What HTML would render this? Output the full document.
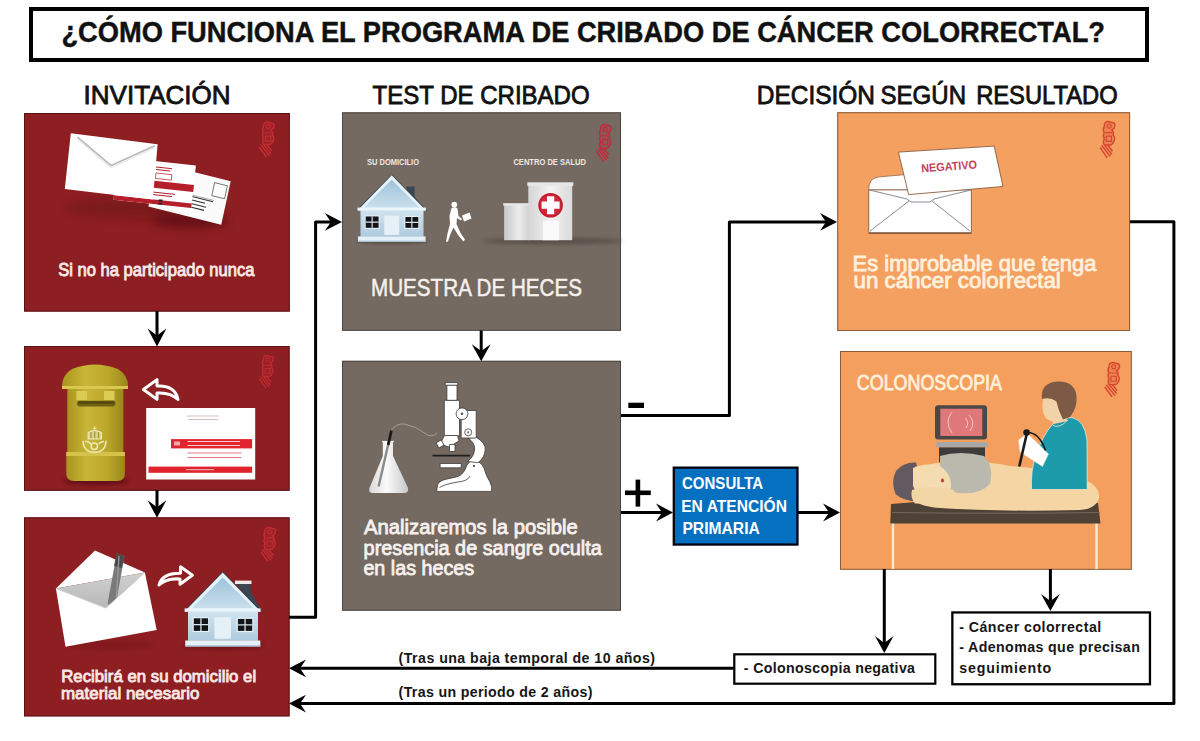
<!DOCTYPE html>
<html><head><meta charset="utf-8">
<style>
html,body{margin:0;padding:0;background:#fff;width:1200px;height:741px;overflow:hidden}
svg{display:block}
text{font-family:"Liberation Sans",sans-serif}
</style></head>
<body>
<svg width="1200" height="741" viewBox="0 0 1200 741">
<defs>
<filter id="blur2" x="-20%" y="-50%" width="140%" height="200%"><feGaussianBlur stdDeviation="2"/></filter>
<filter id="blur4" x="-30%" y="-80%" width="160%" height="260%"><feGaussianBlur stdDeviation="4"/></filter>
<linearGradient id="gWall" x1="0" y1="0" x2="0" y2="1"><stop offset="0" stop-color="#CFE3EF"/><stop offset="1" stop-color="#AFCBDF"/></linearGradient>
<linearGradient id="gGable" x1="0" y1="0" x2="0" y2="1"><stop offset="0" stop-color="#9FC3DA"/><stop offset="1" stop-color="#C9DFEC"/></linearGradient>
<linearGradient id="gBld" x1="0" y1="0" x2="1" y2="0"><stop offset="0" stop-color="#D4D4D4"/><stop offset="0.5" stop-color="#F2F2F2"/><stop offset="1" stop-color="#DADADA"/></linearGradient>
<linearGradient id="gBld2" x1="0" y1="0" x2="1" y2="0"><stop offset="0" stop-color="#C8C8C8"/><stop offset="0.6" stop-color="#EDEDED"/><stop offset="1" stop-color="#D0D0D0"/></linearGradient>
<linearGradient id="gGold" x1="0" y1="0" x2="1" y2="0"><stop offset="0" stop-color="#A8941E"/><stop offset="0.35" stop-color="#C9B537"/><stop offset="0.7" stop-color="#BCA72C"/><stop offset="1" stop-color="#9A871A"/></linearGradient>
<linearGradient id="gFlask" x1="0" y1="0" x2="1" y2="0"><stop offset="0" stop-color="#D8D8D8"/><stop offset="0.45" stop-color="#FAFAFA"/><stop offset="1" stop-color="#C8C8C8"/></linearGradient>
<linearGradient id="gEnvIn" x1="0" y1="0" x2="0" y2="1"><stop offset="0" stop-color="#D0D0D0"/><stop offset="1" stop-color="#B8B8B8"/></linearGradient>
<g id="house">
 <ellipse cx="223" cy="646" rx="40" ry="3" fill="#000" opacity="0.25" filter="url(#blur2)"/>
 <polygon points="222.7,571.6 183.3,611.8 262,611.8" fill="#33404A"/>
 <polygon points="222.7,572.6 184.6,611.6 260.8,611.6" fill="#E4F2FA"/>
 <polygon points="222.7,577.6 191.5,608.6 253.9,608.6" fill="url(#gGable)"/>
 <rect x="188" y="611.4" width="70" height="29.4" fill="url(#gWall)"/>
 <rect x="184.6" y="608.4" width="76" height="3.4" fill="#EAF6FC"/>
 <rect x="192.6" y="617.2" width="16.6" height="14.8" fill="#E8F1F7"/>
 <rect x="193.8" y="618.3" width="14.3" height="12.6" fill="#121418"/>
 <path d="M200.95 618.3V630.9M193.8 624.6H208.1" stroke="#D8E4EC" stroke-width="1.3"/>
 <rect x="236.7" y="617.6" width="16.6" height="14.5" fill="#E8F1F7"/>
 <rect x="237.9" y="618.9" width="14.3" height="12" fill="#121418"/>
 <path d="M245.05 618.9V630.9M237.9 624.9H252.2" stroke="#D8E4EC" stroke-width="1.3"/>
 <rect x="214.4" y="617.2" width="16.6" height="21.6" fill="#E6F0F7"/>
 <rect x="185.2" y="640.5" width="75.1" height="5.9" fill="#E4F1F9"/>
 <rect x="185.2" y="645.2" width="75.1" height="1.4" fill="#A7BFD0"/>
</g>
<g id="logo">
 <path d="M6 1.5Q9 -0.5 12 1.5Q15.8 1 15.6 4.6Q15.2 7.6 12.6 8.6Q14.8 10.6 13.8 13.2Q16.2 15.6 14.7 19Q13.6 21.6 11.6 22.6L5 22.6Q3.4 19.2 5 16.6Q3 13.6 5 11Q3 8 5 5Q4.6 3 6 1.5Z" fill="currentColor" fill-opacity="0.3" stroke="currentColor" stroke-width="1.4"/>
 <circle cx="9.8" cy="4.8" r="2" fill="none" stroke="currentColor" stroke-width="1.1"/>
 <path d="M6.2 11H13M7 14.3H12.2V19.2H7Z" fill="none" stroke="currentColor" stroke-width="1.1"/>
 <path d="M0.8 25L8 34.8M2.3 22.8L11 33.6M5.3 22.8L12.6 31.6M8.5 22.8L13.2 28.6" stroke="currentColor" stroke-width="1.5"/>
</g>

</defs>
<rect x="0" y="0" width="1200" height="741" fill="#fff"/>
<!-- TITLE BOX -->
<rect x="31" y="9" width="1116" height="51" fill="none" stroke="#000" stroke-width="4"/>
<!-- BOXES -->
<rect x="24" y="113" width="265.8" height="198.6" fill="#8D1E21"/>
<rect x="24.5" y="113.5" width="264.8" height="197.6" fill="none" stroke="#4A1012" stroke-width="1" opacity="0.8"/>
<rect x="24" y="346" width="265.6" height="144.8" fill="#8D1E21"/>
<rect x="24.5" y="346.5" width="264.6" height="143.8" fill="none" stroke="#4A1012" stroke-width="1" opacity="0.8"/>
<rect x="24" y="517.3" width="265.6" height="199.1" fill="#8D1E21"/>
<rect x="24.5" y="517.8" width="264.6" height="198.1" fill="none" stroke="#4A1012" stroke-width="1" opacity="0.8"/>
<rect x="342" y="112.3" width="279.0" height="218.5" fill="#756A61"/>
<rect x="342.5" y="112.8" width="278.0" height="217.5" fill="none" stroke="#423B36" stroke-width="1" opacity="0.8"/>
<rect x="342" y="360.8" width="279.0" height="249.9" fill="#756A61"/>
<rect x="342.5" y="361.3" width="278.0" height="248.9" fill="none" stroke="#423B36" stroke-width="1" opacity="0.8"/>
<rect x="837.2" y="112.2" width="292.9" height="218.8" fill="#F4A060"/>
<rect x="837.7" y="112.7" width="291.9" height="217.8" fill="none" stroke="#6E4A30" stroke-width="1" opacity="0.8"/>
<rect x="840" y="351" width="291.8" height="218.8" fill="#F59F5E"/>
<rect x="840.5" y="351.5" width="290.8" height="217.8" fill="none" stroke="#6E4A30" stroke-width="1" opacity="0.8"/>
<rect x="673.8" y="467.65" width="123.65" height="76.9" fill="#0570C0" stroke="#020410" stroke-width="2.3"/>
<rect x="734.3" y="654.3" width="201" height="29.4" fill="#fff" stroke="#000" stroke-width="2.2"/>
<rect x="952.35" y="612.45" width="197.6" height="71.8" fill="#fff" stroke="#000" stroke-width="2.3"/>
<!-- ===== RED BOX 1 ===== -->
<g>
 <ellipse cx="140" cy="208" rx="75" ry="10" fill="#4a0a0c" opacity="0.25" filter="url(#blur4)"/>
 <ellipse cx="190" cy="221" rx="38" ry="7" fill="#3a0608" opacity="0.45" filter="url(#blur4)"/>
 <!-- card 3 (postcard) -->
 <polygon points="157.9,163 230.7,181.2 221.2,224.7 148.4,206.5" fill="#FBFBFB"/>
 <polygon points="214.6,182.6 227.4,185.8 224.6,198.8 211.8,195.6" fill="none" stroke="#555" stroke-width="0.8"/>
 <path d="M190 196L213 201.8M190 199.5L205 203.3M189 203L206 207.3M188.5 206.5L204 210.4" stroke="#333" stroke-width="1.1"/>
 <path d="M172 190 L214 200.5" stroke="#777" stroke-width="0.6"/>
 <!-- card 2 -->
 <polygon points="118,157 195.9,165.4 191.2,208.1 113.5,199.8" fill="#FFFFFF"/>
 <polygon points="152.3,180.5 194,185 193.2,192 151.5,187.5" fill="#B51E2B"/>
 <polygon points="114,195.2 191.7,203.5 191.2,208.1 113.5,199.8" fill="#B51E2B"/>
 <path d="M156 167L172 168.7M156 169.5L170 171M152.5 192L175 194.4M152.5 194.5L172 196.6" stroke="#B51E2B" stroke-width="1"/>
 <rect x="156" y="173" width="16" height="5.5" fill="none" stroke="#B51E2B" stroke-width="0.7" transform="rotate(6 156 173)"/>
 <path d="M158.5 199.5h4v2h-4zM158 203h4v1.6h-4z" fill="#222"/>
 <!-- envelope -->
 <polygon points="70.8,133.2 157.6,144.3 152.8,199.4 64.8,189.1" fill="#FFFFFF"/>
 <polyline points="77.5,137.2 111.2,165.6 154.7,145.8" fill="none" stroke="#B8B8B8" stroke-width="1.6" stroke-linejoin="round"/>
 <polyline points="78,139.5 111.2,167.8 154,148" fill="none" stroke="#E6E6E6" stroke-width="1.2" stroke-linejoin="round"/>
 <use href="#logo" transform="translate(258.5,121.5) scale(1,1.02)" color="#D03038" opacity="0.8"/>
</g>
<!-- ===== RED BOX 2 ===== -->
<g>
 <ellipse cx="96" cy="481" rx="32" ry="4" fill="#3a0608" opacity="0.5" filter="url(#blur2)"/>
 <!-- mailbox -->
 <path d="M66.3 452 H124.9 V474 Q124.9 481 117 481 H74 Q66.3 481 66.3 474 Z" fill="url(#gGold)"/>
 <rect x="67.3" y="384" width="56.1" height="70" fill="url(#gGold)"/>
 <path d="M62 386 Q62 375 72 369 Q95 360 118 369 Q128 375 128 386 Z" fill="url(#gGold)"/>
 <path d="M62 386 H128 V389 H62Z" fill="#D9C750"/>
 <path d="M66.3 452 H124.9 V456 H66.3Z" fill="#D4C24A"/>
 <rect x="76.5" y="391" width="10.5" height="9" fill="#DCCB55"/>
 <rect x="104" y="391" width="10.5" height="9" fill="#DCCB55"/>
 <rect x="77" y="400.8" width="38.5" height="5.6" rx="2.8" fill="#6E6112"/>
 <rect x="78" y="401.6" width="36.5" height="2" rx="1" fill="#4E440A"/>
 <g fill="none" stroke="#EEE8B8" stroke-width="1.5" stroke-linecap="round">
  <path d="M88.2 438.8V432.6Q94.8 428.8 101.4 432.6V438.8Z" fill="#D8D08A" stroke-width="1.2"/>
  <path d="M91 432.5V438M94.8 431.5V438M98.6 432.5V438" stroke="#9C8E2A" stroke-width="1"/>
  <path d="M94.8 426.8V430.2M93.3 428.3H96.3" stroke-width="1"/>
  <path d="M83 441.2Q83.5 452.2 94.5 452.2Q105.5 452.2 106 441.2"/>
  <circle cx="94.3" cy="446.3" r="3.2"/>
  <path d="M85.5 441.5Q89 441 91.5 444.5M103.5 441.5Q101 442 99 443.5"/>
 </g>

 <!-- reply arrow -->
 <path d="M178 399.5 Q175 385 157 386 L157 379.6 L143.4 389.5 L157 399.4 L157 393 Q170 392 178 399.5Z" fill="none" stroke="#FFFFFF" stroke-width="3" stroke-linejoin="round"/>
 <!-- card -->
 <rect x="146.2" y="408" width="109" height="71.5" fill="#FFFFFF"/>
 <rect x="171" y="439.1" width="81.1" height="9.3" fill="#E0232D"/>
 <rect x="148.5" y="466.6" width="103.6" height="6.2" fill="#E0232D"/>
 <path d="M174 441.5h6v4h-6z" fill="#fff" opacity="0.6"/>
 <path d="M187.5 441.5H240M187.5 445.5H240" stroke="#F6C8C8" stroke-width="1.1"/>
 <path d="M187.5 453H241.5M187.5 457.5H241.5" stroke="#E27A80" stroke-width="1.1"/>
 <path d="M187 416H219M188 419.5H218" stroke="#C9A0A0" stroke-width="0.7"/>
 <path d="M186 469.7H214" stroke="#F6C0C0" stroke-width="1"/>
 <use href="#logo" transform="translate(258.5,355) scale(0.95,0.95)" color="#D03038" opacity="0.7"/>
</g>
<!-- ===== RED BOX 3 ===== -->
<g>
 <ellipse cx="110" cy="645" rx="44" ry="4" fill="#3a0608" opacity="0.15" filter="url(#blur2)"/>
 <polygon points="55.9,588.4 95,550.5 144.9,572.6" fill="#FFFFFF"/>
 <polygon points="55.9,588.4 144.9,572.6 105.8,608.2" fill="url(#gEnvIn)"/>
 <!-- pen -->
 <path d="M116.8 553.5 L124.6 555.9 L115.3 606.5 L107.5 604.1Z" fill="#7A7A7A"/>
 <path d="M116.8 553.5 L124.6 555.9 L121.6 568 L114 565.8Z" fill="#4A4A4A"/>
 <path d="M119 556 L116 604" stroke="#9A9A9A" stroke-width="1.2"/>
 <polygon points="55.9,588.4 105.8,608.2 144.9,572.6 156.7,630 65.5,646.7" fill="#FFFFFF"/>
 <path d="M55.9 588.4 L105.8 608.2 L144.9 572.6" fill="none" stroke="#DADADA" stroke-width="0.8"/>
 <!-- forward arrow -->
 <path d="M159 585 Q162 573 180.5 573.2 L180.5 566.8 L192.4 575.2 L180 584.2 L180 579 Q166 578 159 585Z" fill="none" stroke="#FFFFFF" stroke-width="3" stroke-linejoin="round"/>
 <polygon points="236,583.5 250.5,583.5 250.8,591.5 262,611.6 259,611.6" fill="#3A4650"/>
 <rect x="235" y="580.6" width="16.5" height="3.4" fill="#F0E8E8"/>
 <use href="#house"/>
 <use href="#logo" transform="translate(260,527) scale(1,0.99)" color="#D03038" opacity="0.8"/>
</g>
<!-- ===== GRAY BOX 1 ===== -->
<g>
 <polygon points="406.5,186.5 414.6,186.5 414.6,196.5 424.8,210.2 421.5,210.2 406.5,190" fill="#3A4650"/>
 <use href="#house" transform="translate(191.3,-340) scale(0.9)"/>
 <!-- shadow line under health center -->
 <ellipse cx="553" cy="241" rx="70" ry="3" fill="#3E3630" opacity="0.55" filter="url(#blur2)"/>
 <!-- health center -->
 <rect x="504.1" y="204.2" width="25" height="36" fill="url(#gBld2)"/>
 <rect x="503.2" y="203.2" width="26" height="2.4" fill="#E8E8E8"/>
 <rect x="528.3" y="185" width="43.9" height="55.2" fill="url(#gBld)"/>
 <rect x="527.3" y="182.3" width="46" height="3.6" fill="#E6E6E6"/>
 <circle cx="550.6" cy="205.2" r="12.3" fill="#C21F32"/>
 <circle cx="550.6" cy="205.2" r="10.2" fill="#D0293A"/>
 <path d="M547 196.2h7.2v5.4h5.4v7.2h-5.4v5.4H547v-5.4h-5.4v-7.2h5.4z" fill="#FFFFFF"/>
 <rect x="542.9" y="220.9" width="16.2" height="19.3" fill="#FAFAFA"/>
 <!-- walking person -->
 <g fill="#FFFFFF">
  <circle cx="454.3" cy="204.6" r="2.9"/>
  <path d="M451.5 208 Q455 206.5 457.5 208.5 L458.5 216 L462 219 L461 220.5 L457 218 L456.5 224 L460.5 233 L465 239.5 L463.5 241.5 L458 235 L453.5 227.5 L450.5 234 L448 241.5 L446 242 L447.5 233.5 L450 224 L449.5 216 Z"/>
  <polygon points="462,215.5 469.5,212.5 471.5,218.5 464,221.5"/>
 </g>
 <use href="#logo" transform="translate(595.5,124) scale(1,1.08)" color="#C8283A" opacity="0.95"/>
</g>
<!-- ===== GRAY BOX 2 ===== -->
<g>
 <!-- wire -->
 <path d="M391 431 Q396 423 404 424 Q416 426 426 434 Q432 438 437 433" fill="none" stroke="#A9A29C" stroke-width="0.9"/>
 <!-- flask -->
 <path d="M382.8 442 H393 V456 L408 488 Q409 493 404 493 H373 Q368 493 369.5 488 L382.8 456Z" fill="url(#gFlask)"/>
 <path d="M382 441.5 H394" stroke="#EEE" stroke-width="1.2"/>
 <path d="M391.4 430.5 L378.6 486.5" stroke="#8A8A8A" stroke-width="2.4"/>
 <path d="M391.4 430.5 L388.2 445" stroke="#1A1A1A" stroke-width="2.8"/>
 <!-- microscope -->
 <g fill="#FFFFFF" stroke="#3A3A3A" stroke-width="0.8" stroke-linejoin="round">
  <path d="M436.7 491.4 L437.5 485 Q439 481 445 479.5 L458 476.5 Q464 474 466.5 466 Q469 460.5 474.7 460.8 Q481 461.5 484 468 Q486 476 490 482 Q492.5 487 491.6 491.4Z"/>
  <path d="M468 438.2 L476.4 437.4 Q486 443 485.2 450 Q484.5 458 478 462.7 L467.5 461.5 Q474 457 474.7 449 Q474.5 442 468 438.2Z"/>
  <rect x="461.2" y="410.5" width="15" height="27.5"/>
  <rect x="444.3" y="400.3" width="15.2" height="35.5"/>
  <rect x="446.9" y="385" width="10.1" height="15.3"/>
  <rect x="445.2" y="382.6" width="12.6" height="2.6"/>
  <circle cx="462" cy="413.8" r="5.9"/>
  <circle cx="468.2" cy="432.3" r="3.5"/>
  <path d="M444.5 435.5 L457.5 435.5 L459 441 L449 447 L440 444Z"/>
  <rect x="437" y="441" width="6" height="6" transform="rotate(-30 440 444)"/>
  <rect x="449.5" y="444.5" width="5.5" height="7"/>
  <rect x="440.1" y="463.5" width="21.1" height="4.3"/>
  <path d="M439.5 487.5 Q445 484 458 482 Q468 481 470 476" fill="none"/>
 </g>
 <circle cx="462" cy="413.8" r="1.3" fill="#555"/>
 <circle cx="468.2" cy="432.3" r="1" fill="#555"/>
 <path d="M432.5 455.6 H470" stroke="#1E1E1E" stroke-width="1.6"/>
 <circle cx="474" cy="466" r="1" fill="#333"/>
</g>
<!-- ===== ORANGE BOX 1 ===== -->
<g>
 <path d="M868.8 190 Q868 179 878 177 L935 172 L960 190Z" fill="#FFFFFF" stroke="#9A6A4A" stroke-width="0.8"/>
 <rect x="868.8" y="189.9" width="102.5" height="43.2" fill="#FFFFFF" stroke="#8A5C40" stroke-width="0.9"/>
 <path d="M868.8 233.1 H971.3" stroke="#8A5C40" stroke-width="1.6"/>
 <path d="M869.5 190 L907 199 L911 202 H930 L934 199 L971 190" fill="none" stroke="#8A8A96" stroke-width="1"/>
 <path d="M909 201 L870 231 M932 201 L970 231" stroke="#8A8A96" stroke-width="1"/>
 <polygon points="898.4,152.1 994.2,146.1 1003,186.5 908.6,194.6" fill="#FFFFFF" stroke="#8A5C40" stroke-width="0.9"/>
 <text x="921.4" y="172.4" font-size="11.6" font-weight="bold" fill="#C8405A" transform="rotate(-4.2 921.4 172.4)" textLength="56" lengthAdjust="spacingAndGlyphs">NEGATIVO</text>
 <use href="#logo" transform="translate(1099.3,121) scale(1,1.06)" color="#D8402E" opacity="0.95"/>
</g>
<!-- ===== ORANGE BOX 2 ===== -->
<g>
 <!-- monitor -->
 <rect x="935" y="405.3" width="52" height="34.2" rx="3" fill="#4A4746"/>
 <rect x="940.3" y="408.7" width="42" height="27.3" fill="#E0787A"/>
 <path d="M952 412 Q944 422 952 433 M965 418 Q970 422 966 428 M969 415 Q976 422 970 431" fill="none" stroke="#F5C9C3" stroke-width="1"/>
 <rect x="936.3" y="442" width="51.3" height="5.4" fill="#A7A7A7"/>
 <rect x="939" y="447.4" width="46" height="18" fill="#3E3C3B"/>
 <!-- table -->
 <rect x="891.8" y="522" width="2.4" height="47" fill="#FDE9D2"/>
 <rect x="1095.3" y="522" width="2.4" height="47" fill="#FDE9D2"/>
 <path d="M891 504 Q930 500 965 503 Q1000 506 1040 503 Q1075 501 1098 503 L1100.5 523.5 L890.3 523.5Z" fill="#4E4236"/>
 <path d="M892 512.5 Q1000 514 1100 512.5" stroke="#7A6B5C" stroke-width="0.9" fill="none"/>
 <!-- patient -->
 <path d="M915 470 Q930 462 948 462 Q985 460 1010 466 Q1060 470 1085 480 Q1100 486 1099 498 Q1096 509 1080 510 Q1000 512 940 508 Q915 506 910 496 Q908 480 915 470Z" fill="#F4D5A3"/>
 <path d="M940 456 Q960 450 984 456 Q994 466 990 484 Q980 495 958 493 Q944 490 940 478Z" fill="#B9B9AD"/>
 <path d="M896 471 Q903 462 916 462.5 Q921 478 917 501.5 Q903 501 895.5 494 Q890.5 482 896 471Z" fill="#625A60"/>
 <path d="M913 468 Q925 462 940 466 Q952 474 951 488 Q944 497 930 497 Q916 496 913 486Z" fill="#F5DCB0"/>
 <path d="M912 490 Q930 484 954 490 Q956 500 945 503.5 L915 503.5 Q910 498 912 490Z" fill="#F3D6A6"/>
 <ellipse cx="942.5" cy="480.5" rx="1.6" ry="2" fill="#C84040"/>
 <!-- doctor -->
 <path d="M1031.5 489.5 Q1030.5 470 1036 455 Q1042 437 1052 424.5 Q1060 418 1072 417.5 Q1084.5 420 1087 440 L1087.2 489.5Z" fill="#1E9BAB" stroke="#F6E3C8" stroke-width="0.8"/>
 <path d="M1052 424.5 Q1058 430 1068 420" fill="none" stroke="#F6E3C8" stroke-width="0.8"/>
 <path d="M1051 409 L1066 410 L1067 421 Q1060 423 1053 424Z" fill="#F2D2A8"/>
 <path d="M1043.5 397 Q1040.5 410 1046 418.5 L1053 422 L1062 420 Q1058 411 1056.5 401 Q1050 395 1043.5 397Z" fill="#F2D2A8"/>
 <path d="M1042 399 Q1040 383 1057 381.5 Q1074.5 380.5 1076.5 396 Q1077.5 408 1070 417 L1063 419.5 Q1058.5 411 1056.5 401.5 Q1050 396.5 1042 399Z" fill="#7D5A45"/>
 <path d="M1018.5 440 L1027.5 433.5 L1048.5 454 L1042.5 466.5 L1020 452Z" fill="#FFFFFF" stroke="#F0E0D0" stroke-width="0.5"/>
 <path d="M1027 432.5 Q1039 432 1045.5 450.5" fill="none" stroke="#1A1A1A" stroke-width="1.6"/>
 <path d="M1026.5 435 L1019.5 465.5" stroke="#1A1A1A" stroke-width="2.6" stroke-linecap="round"/>
 <circle cx="1026.6" cy="432.6" r="3.3" fill="#1A1A1A"/>
 <use href="#logo" transform="translate(1104,362) scale(1,1.0)" color="#D8402E" opacity="0.95"/>
</g>

<!-- CONNECTORS -->
<g fill="none" stroke="#000" stroke-width="3" stroke-linejoin="round">
<path d="M157 311V336"/>
<path d="M157 490V508"/>
<path d="M289 617.3H315.6V221.9H332"/>
<path d="M481.2 330.5V352"/>
<path d="M621 415.5H729.4V221.9H827"/>
<path d="M621 512.5H663"/>
<path d="M798 512.5H830"/>
<path d="M1130 221.8H1173.9V703.6H299"/>
<path d="M733.6 668.3H299"/>
<path d="M884.3 569V643"/>
<path d="M1050.4 569V601"/>
</g>
<g fill="#000">
<polygon points="157,346.6 147.6,328.6 157,335.6 166.4,328.6"/>
<polygon points="157,517.8 147.6,500.3 157,507.3 166.4,500.3"/>
<polygon points="481.2,361.2 471.8,344.2 481.2,351 490.6,344.2"/>
<polygon points="884.3,653 875,636 884.3,643 893.6,636"/>
<polygon points="1050.4,611 1041,594 1050.4,601 1059.8,594"/>
<polygon points="342,221.9 324.8,213 331,221.9 324.8,230.8"/>
<polygon points="837,221.9 820,213 826,221.9 820,230.8"/>
<polygon points="673,512.5 656,503.6 662,512.5 656,521.4"/>
<polygon points="840,512.5 823,503.6 829,512.5 823,521.4"/>
<polygon points="289,668.3 306,659.4 300,668.3 306,677.2"/>
<polygon points="289,703.6 306,694.7 300,703.6 306,712.5"/>
</g>
<rect x="628.3" y="402.7" width="15.7" height="5.3" fill="#000"/>
<rect x="625" y="490.5" width="25.8" height="4.6" fill="#000"/>
<rect x="635.6" y="479.6" width="4.6" height="27" fill="#000"/>
<text x="61.40" y="41.8" font-size="29.4" font-weight="bold" fill="#111" textLength="1043.60" lengthAdjust="spacingAndGlyphs" stroke="#111" stroke-width="0.45">¿CÓMO FUNCIONA EL PROGRAMA DE CRIBADO DE CÁNCER COLORRECTAL?</text>
<text x="83.60" y="104.1" font-size="25.1" font-weight="normal" fill="#111" textLength="147.00" lengthAdjust="spacingAndGlyphs" stroke="#111" stroke-width="0.8">INVITACIÓN</text>
<text x="372.60" y="104.2" font-size="25.1" font-weight="normal" fill="#111" textLength="217.00" lengthAdjust="spacingAndGlyphs" stroke="#111" stroke-width="0.8">TEST DE CRIBADO</text>
<text x="756.80" y="104.1" font-size="25.1" font-weight="normal" fill="#111" textLength="118.20" lengthAdjust="spacingAndGlyphs" stroke="#111" stroke-width="0.8">DECISIÓN</text>
<text x="880.60" y="104.1" font-size="25.1" font-weight="normal" fill="#111" textLength="85.40" lengthAdjust="spacingAndGlyphs" stroke="#111" stroke-width="0.8">SEGÚN</text>
<text x="976.20" y="104.1" font-size="25.1" font-weight="normal" fill="#111" textLength="141.40" lengthAdjust="spacingAndGlyphs" stroke="#111" stroke-width="0.8">RESULTADO</text>
<text x="58.20" y="275.8" font-size="17.5" font-weight="normal" fill="#F8E8E6" textLength="196.20" lengthAdjust="spacingAndGlyphs" stroke="#F8E8E6" stroke-width="0.85">Si no ha participado nunca</text>
<text x="61.20" y="682.3" font-size="17.2" font-weight="normal" fill="#F8E8E6" textLength="195.00" lengthAdjust="spacingAndGlyphs" stroke="#F8E8E6" stroke-width="0.85">Recibirá en su domicilio el</text>
<text x="61.00" y="699" font-size="17.2" font-weight="normal" fill="#F8E8E6" textLength="138.40" lengthAdjust="spacingAndGlyphs" stroke="#F8E8E6" stroke-width="0.85">material necesario</text>
<text x="371.00" y="295.8" font-size="24.6" font-weight="normal" fill="#F6F1EE" textLength="211.00" lengthAdjust="spacingAndGlyphs" stroke="#F6F1EE" stroke-width="0.5">MUESTRA DE HECES</text>
<text x="367.00" y="164.75" font-size="9.8" font-weight="bold" fill="#EEE8E4" textLength="52.00" lengthAdjust="spacingAndGlyphs">SU DOMICILIO</text>
<text x="513.40" y="165" font-size="9.8" font-weight="bold" fill="#EEE8E4" textLength="72.60" lengthAdjust="spacingAndGlyphs">CENTRO DE SALUD</text>
<text x="364.00" y="534.2" font-size="20.5" font-weight="normal" fill="#F6F1EE" textLength="213.80" lengthAdjust="spacingAndGlyphs" stroke="#F6F1EE" stroke-width="0.8">Analizaremos la posible</text>
<text x="363.60" y="555" font-size="20.5" font-weight="normal" fill="#F6F1EE" textLength="238.20" lengthAdjust="spacingAndGlyphs" stroke="#F6F1EE" stroke-width="0.8">presencia de sangre oculta</text>
<text x="363.40" y="575" font-size="20.5" font-weight="normal" fill="#F6F1EE" textLength="110.80" lengthAdjust="spacingAndGlyphs" stroke="#F6F1EE" stroke-width="0.8">en las heces</text>
<text x="852.60" y="271.3" font-size="22.5" font-weight="normal" fill="#FFF0DC" textLength="243.80" lengthAdjust="spacingAndGlyphs" stroke="#FFF0DC" stroke-width="0.85">Es improbable que tenga</text>
<text x="853.60" y="287.8" font-size="22.5" font-weight="normal" fill="#FFF0DC" textLength="207.20" lengthAdjust="spacingAndGlyphs" stroke="#FFF0DC" stroke-width="0.85">un cáncer colorrectal</text>
<text x="856.80" y="389.9" font-size="21.2" font-weight="normal" fill="#FFF0DC" textLength="145.20" lengthAdjust="spacingAndGlyphs" stroke="#FFF0DC" stroke-width="0.8">COLONOSCOPIA</text>
<text x="682.00" y="489.3" font-size="17.1" font-weight="bold" fill="#fff" textLength="81.20" lengthAdjust="spacingAndGlyphs">CONSULTA</text>
<text x="681.20" y="511.6" font-size="17.1" font-weight="bold" fill="#fff" textLength="105.80" lengthAdjust="spacingAndGlyphs">EN ATENCIÓN</text>
<text x="682.40" y="533.5" font-size="17.1" font-weight="bold" fill="#fff" textLength="77.40" lengthAdjust="spacingAndGlyphs">PRIMARIA</text>
<text x="743.80" y="673" font-size="14.2" font-weight="bold" fill="#161616" textLength="171.20" lengthAdjust="spacing">- Colonoscopia negativa</text>
<text x="959.20" y="631.7" font-size="14.2" font-weight="bold" fill="#161616" textLength="142.00" lengthAdjust="spacing">- Cáncer colorrectal</text>
<text x="959.20" y="652.3" font-size="14.2" font-weight="bold" fill="#161616" textLength="180.60" lengthAdjust="spacing">- Adenomas que precisan</text>
<text x="959.20" y="672.8" font-size="14.2" font-weight="bold" fill="#161616" textLength="92.00" lengthAdjust="spacing">seguimiento</text>
<text x="398.60" y="662.5" font-size="14.2" font-weight="bold" fill="#161616" textLength="256.40" lengthAdjust="spacing">(Tras una baja temporal de 10 años)</text>
<text x="398.60" y="696.9" font-size="14.2" font-weight="bold" fill="#161616" textLength="193.80" lengthAdjust="spacing">(Tras un periodo de 2 años)</text>
</svg>
</body></html>
